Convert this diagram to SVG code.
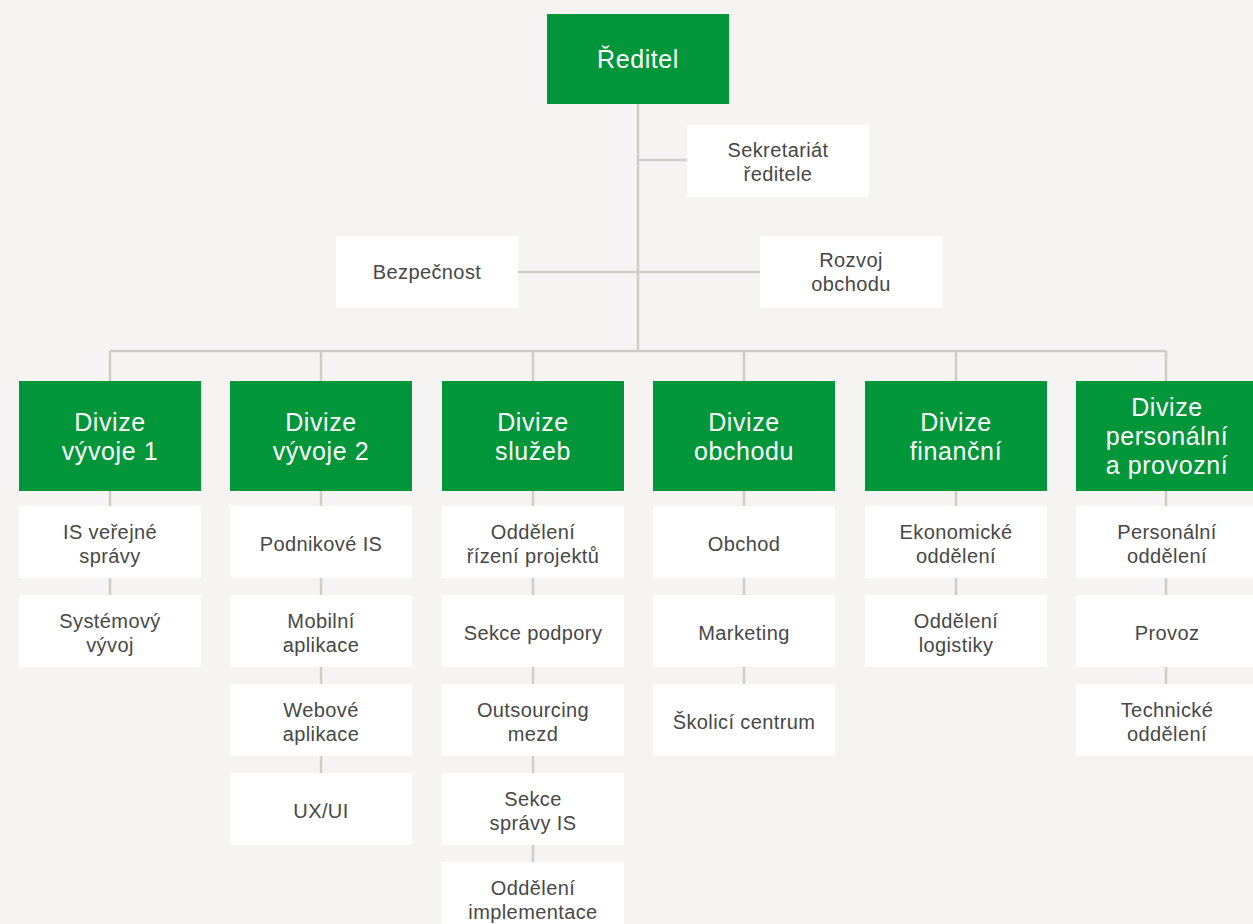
<svg xmlns="http://www.w3.org/2000/svg" width="1253" height="924" viewBox="0 0 1253 924">
<style>
.bg{fill:#f5f4f2}
.g{fill:#009639}
.w{fill:#ffffff}
.c{stroke:#cfcdca;stroke-width:2.5;fill:none}
.tg{font-family:"Liberation Sans",Arial,sans-serif;font-size:25px;letter-spacing:0.6px;fill:#ffffff;text-anchor:middle}
.tw{font-family:"Liberation Sans",Arial,sans-serif;font-size:20px;letter-spacing:0.4px;fill:#474747;text-anchor:middle}
</style>
<rect class="bg" x="0" y="0" width="1253" height="924"/>
<g id="connectors">
<path class="c" d="M638 104V351M638 160H687M518 272H760M110 351H1166M110 351V381M321 351V381M533 351V381M744 351V381M956 351V381M1166 351V381"/>
<path class="c" d="M110 491V595M321 491V773M533 491V862M744 491V684M956 491V595M1166 491V684"/>
</g>
<g id="reditel"><rect class="g" x="547" y="14" width="182" height="90"/><text class="tg" x="638" y="68">Ředitel</text></g>
<g id="sekretariat"><rect class="w" x="687" y="125" width="182" height="72"/><text class="tw" x="778" y="157">Sekretariát</text><text class="tw" x="778" y="181">ředitele</text></g>
<g id="bezpecnost"><rect class="w" x="336" y="236" width="182" height="72"/><text class="tw" x="427" y="279">Bezpečnost</text></g>
<g id="rozvoj"><rect class="w" x="760" y="236" width="182" height="72"/><text class="tw" x="851" y="267">Rozvoj</text><text class="tw" x="851" y="291">obchodu</text></g>

<g id="div1"><rect class="g" x="19" y="381" width="182" height="110"/><text class="tg" x="110" y="431">Divize</text><text class="tg" x="110" y="460">vývoje 1</text></g>
<g id="div2"><rect class="g" x="230" y="381" width="182" height="110"/><text class="tg" x="321" y="431">Divize</text><text class="tg" x="321" y="460">vývoje 2</text></g>
<g id="div3"><rect class="g" x="442" y="381" width="182" height="110"/><text class="tg" x="533" y="431">Divize</text><text class="tg" x="533" y="460">služeb</text></g>
<g id="div4"><rect class="g" x="653" y="381" width="182" height="110"/><text class="tg" x="744" y="431">Divize</text><text class="tg" x="744" y="460">obchodu</text></g>
<g id="div5"><rect class="g" x="865" y="381" width="182" height="110"/><text class="tg" x="956" y="431">Divize</text><text class="tg" x="956" y="460">finanční</text></g>
<g id="div6"><rect class="g" x="1076" y="381" width="182" height="110"/><text class="tg" x="1167" y="416">Divize</text><text class="tg" x="1167" y="445">personální</text><text class="tg" x="1167" y="474">a provozní</text></g>

<g id="is-verejne"><rect class="w" x="19" y="506" width="182" height="72"/><text class="tw" x="110" y="539">IS veřejné</text><text class="tw" x="110" y="563">správy</text></g>
<g id="systemovy"><rect class="w" x="19" y="595" width="182" height="72"/><text class="tw" x="110" y="628">Systémový</text><text class="tw" x="110" y="652">vývoj</text></g>

<g id="podnikove"><rect class="w" x="230" y="506" width="182" height="72"/><text class="tw" x="321" y="551">Podnikové IS</text></g>
<g id="mobilni"><rect class="w" x="230" y="595" width="182" height="72"/><text class="tw" x="321" y="628">Mobilní</text><text class="tw" x="321" y="652">aplikace</text></g>
<g id="webove"><rect class="w" x="230" y="684" width="182" height="72"/><text class="tw" x="321" y="717">Webové</text><text class="tw" x="321" y="741">aplikace</text></g>
<g id="uxui"><rect class="w" x="230" y="773" width="182" height="72"/><text class="tw" x="321" y="818">UX/UI</text></g>

<g id="rizeni"><rect class="w" x="442" y="506" width="182" height="72"/><text class="tw" x="533" y="539">Oddělení</text><text class="tw" x="533" y="563">řízení projektů</text></g>
<g id="podpora"><rect class="w" x="442" y="595" width="182" height="72"/><text class="tw" x="533" y="640">Sekce podpory</text></g>
<g id="outsourcing"><rect class="w" x="442" y="684" width="182" height="72"/><text class="tw" x="533" y="717">Outsourcing</text><text class="tw" x="533" y="741">mezd</text></g>
<g id="spravy"><rect class="w" x="442" y="773" width="182" height="72"/><text class="tw" x="533" y="806">Sekce</text><text class="tw" x="533" y="830">správy IS</text></g>
<g id="implementace"><rect class="w" x="442" y="862" width="182" height="72"/><text class="tw" x="533" y="895">Oddělení</text><text class="tw" x="533" y="919">implementace</text></g>

<g id="obchod"><rect class="w" x="653" y="506" width="182" height="72"/><text class="tw" x="744" y="551">Obchod</text></g>
<g id="marketing"><rect class="w" x="653" y="595" width="182" height="72"/><text class="tw" x="744" y="640">Marketing</text></g>
<g id="skolici"><rect class="w" x="653" y="684" width="182" height="72"/><text class="tw" x="744" y="729">Školicí centrum</text></g>

<g id="ekonomicke"><rect class="w" x="865" y="506" width="182" height="72"/><text class="tw" x="956" y="539">Ekonomické</text><text class="tw" x="956" y="563">oddělení</text></g>
<g id="logistika"><rect class="w" x="865" y="595" width="182" height="72"/><text class="tw" x="956" y="628">Oddělení</text><text class="tw" x="956" y="652">logistiky</text></g>

<g id="personalni"><rect class="w" x="1076" y="506" width="182" height="72"/><text class="tw" x="1167" y="539">Personální</text><text class="tw" x="1167" y="563">oddělení</text></g>
<g id="provoz"><rect class="w" x="1076" y="595" width="182" height="72"/><text class="tw" x="1167" y="640">Provoz</text></g>
<g id="technicke"><rect class="w" x="1076" y="684" width="182" height="72"/><text class="tw" x="1167" y="717">Technické</text><text class="tw" x="1167" y="741">oddělení</text></g>
</svg>
